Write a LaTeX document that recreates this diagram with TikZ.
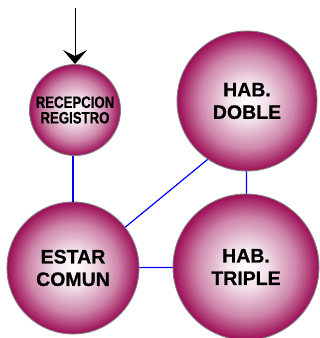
\documentclass[tikz,border=0pt]{standalone}
\usepackage{fontspec}
\setmainfont{Liberation Sans}[FakeBold=0.6]
\newfontfamily\narrowfont[FakeStretch=0.8,FakeBold=0.6]{Liberation Sans}
\usepackage{tikz}
\usetikzlibrary{arrows.meta, positioning, calc}
\definecolor{bubblered}{HTML}{9C0C55}
\definecolor{bubbleedge}{HTML}{808080}
\definecolor{linkblue}{HTML}{0000FF}
\pgfdeclareradialshading{bubbleshade}{\pgfpoint{0bp}{0bp}}{%
  color(0bp)=(white); color(7bp)=(white!88!bubblered); color(17bp)=(bubblered!50!white);
  color(25bp)=(bubblered); color(50bp)=(bubblered)}

\begin{document}
\begin{tikzpicture}[
    x=1pt, y=-1pt,
    bubble/.style={circle,draw=bubbleedge,line width=0.9pt,shade,shading=bubbleshade,align=center,inner sep=0pt},
    bigtext/.style={font=\fontsize{19.5}{22.5}\selectfont\bfseries},
    link/.style={draw=linkblue,line width=1.2pt},
  ]
    \useasboundingbox (0,0) rectangle (320,338);

    \node[bubble, minimum size=91pt, font=\narrowfont\fontsize{16.5}{15.5}\selectfont\bfseries] (recep) at (75,110) {RECEPCION\\REGISTRO};
    \node[bubble, minimum size=140pt, bigtext] (doble) at (247,101) {HAB.\\DOBLE};
    \node[bubble, minimum size=132pt, bigtext] (estar) at (73,268) {ESTAR\\COMUN};
    \node[bubble, minimum size=146pt, bigtext] (triple) at (246,267) {HAB.\\TRIPLE};
    \coordinate (entry) at (75,8);

    \draw[-{Stealth[length=14pt,width=24pt,inset=6pt]},line width=1pt] (entry) -- (recep.north);
    \draw[link] (estar.north) -- (estar.north |- recep.south);
    \draw[link] (doble) -- (triple);
    \draw[link] (estar) -- (triple);
    \draw[link] (estar.38) -- (doble.236);
  \end{tikzpicture}
\end{document}
